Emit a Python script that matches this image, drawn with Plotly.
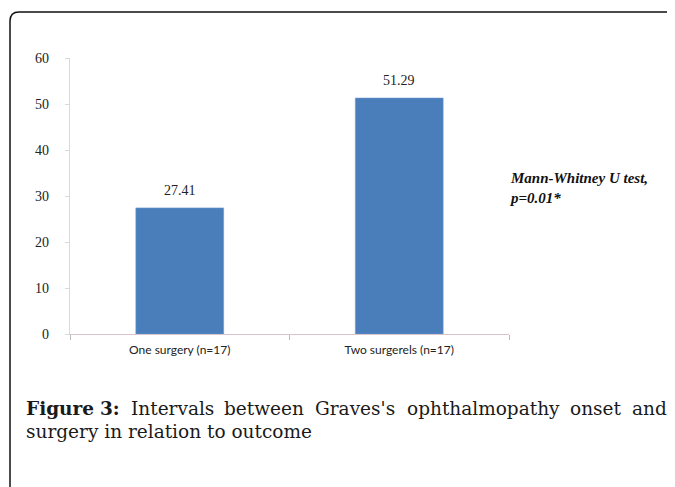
import plotly.graph_objects as go

categories = ["One surgery (n=17)", "Two surgerels (n=17)"]
values = [27.41, 51.29]
value_labels = ["27.41", "51.29"]
y_ticks = [0, 10, 20, 30, 40, 50, 60]
note_lines = ["Mann-Whitney U test,", "p=0.01*"]
caption_line1 = ["Figure", "3:", "Intervals", "between", "Graves's", "ophthalmopathy", "onset", "and"]
caption_line1_x = [24, 98, 129, 222, 313, 405, 568, 669]
caption_line2 = "surgery in relation to outcome"

# the page body has an 8px margin; work in reference pixel coordinates
OFF = 8
W, H = 675 - OFF, 487 - OFF
L, T = 70 - OFF, 58 - OFF
PW, PH = 439, 276
R, B = W - L - PW, H - T - PH


def px(x):
    return (x - OFF - L) / PW


def py(y):
    return 1 - (y - OFF - T) / PH


fig = go.Figure()
fig.add_trace(go.Bar(
    x=categories, y=values, width=0.4,
    marker=dict(color="#4A7EBB", line=dict(color="#6A96D0", width=0.6)),
    hoverinfo="skip",
))

annotations = []
for c, v, t in zip(categories, values, value_labels):
    annotations.append(dict(x=c, y=v, text=t, showarrow=False, yanchor="bottom",
                            yshift=8, font=dict(family="Liberation Serif", size=14, color="#222")))

annotations.append(dict(
    xref="paper", yref="paper", x=px(507), y=py(188), xanchor="left", yanchor="middle",
    align="left", showarrow=False,
    text="<br>".join(f"<b><i>{s}</i></b>" for s in note_lines),
    font=dict(family="Liberation Serif", size=15, color="#111")))

cap_font = dict(family="DejaVu Serif", size=18.5, color="#1a1a1a")
for i, (w, x) in enumerate(zip(caption_line1, caption_line1_x)):
    last = i == len(caption_line1) - 1
    txt = f"<b>{w}</b>" if i < 2 else w
    annotations.append(dict(xref="paper", yref="paper", x=px(x), y=py(408),
                            xanchor="right" if last else "left", yanchor="middle",
                            showarrow=False, text=txt, font=cap_font))
annotations.append(dict(xref="paper", yref="paper", x=px(24), y=py(431),
                        xanchor="left", yanchor="middle", showarrow=False,
                        text=caption_line2, font=cap_font))

# rounded border box (extends past right/bottom edges)
x0, y0, r = 10, 12, 9
xe, ye = 700, 520
path = (f"M {px(x0)},{py(ye)} L {px(x0)},{py(y0 + r)} "
        f"Q {px(x0)},{py(y0)} {px(x0 + r)},{py(y0)} L {px(xe)},{py(y0)}")

fig.update_layout(
    width=W, height=H,
    margin=dict(l=L, r=R, t=T, b=B),
    paper_bgcolor="white", plot_bgcolor="white",
    showlegend=False,
    bargap=0.6,
    annotations=annotations,
    shapes=[dict(type="path", path=path, xref="paper", yref="paper",
                 line=dict(color="#111", width=1.5))],
    xaxis=dict(
        range=[-0.5, 1.5], showline=True, linecolor="#d8c4cc", linewidth=1.2,
        ticks="outside", tickson="boundaries", ticklen=5, tickcolor="#bbbbbb",
        tickfont=dict(family="Lato", size=12, color="#222"),
        ticklabelstandoff=4, showgrid=False, zeroline=False,
    ),
    yaxis=dict(
        range=[0, 60], tickvals=y_ticks, showline=True, linecolor="#d9d9d9", linewidth=1.2,
        ticks="outside", ticklen=4, tickcolor="#d9d9d9",
        tickfont=dict(family="Liberation Serif", size=14, color="#222"),
        ticklabelstandoff=13, showgrid=False, zeroline=False,
    ),
)

fig.write_html("out.html")
